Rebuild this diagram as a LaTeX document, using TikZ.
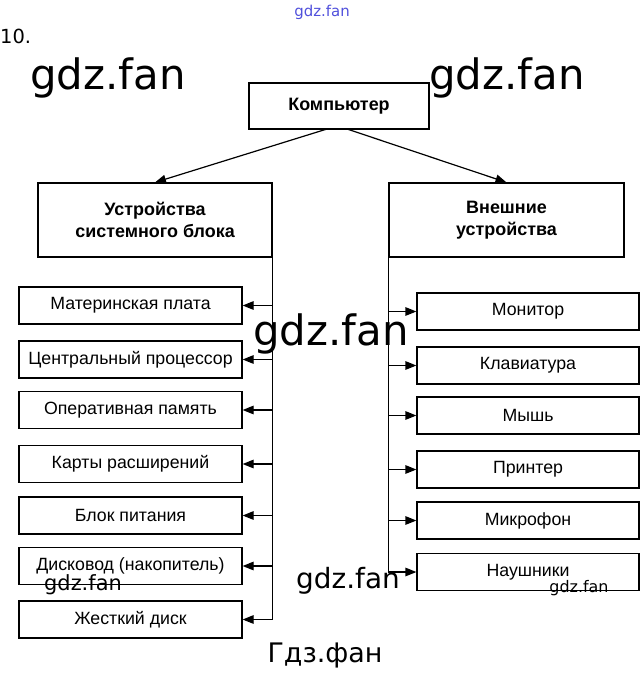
\documentclass[tikz,border=0pt]{standalone}
\usepackage{fontspec}
\setmainfont{Liberation Sans}
\newfontfamily\wmfont{DejaVu Sans}
\usetikzlibrary{arrows.meta}
\begin{document}
\begin{tikzpicture}[x=1bp,y=-1bp,
  box/.style={draw=black,line width=1.2bp,rectangle,inner sep=0pt,align=center},
  small/.style={box,minimum height=37bp,font=\fontsize{17.8}{20}\selectfont},
  big/.style={box,minimum width=234bp,minimum height=74bp,font=\bfseries\fontsize{18}{21.5}\selectfont},
  arr/.style={line width=1.2bp,-{Triangle[length=11bp,width=8.5bp]}},
  trunk/.style={line width=1.2bp},
  wm/.style={font=\wmfont,inner sep=0pt}]
\useasboundingbox (0,0) rectangle (643,673);
\fill[white] (0,0) rectangle (643,673);
% top
\node[box,minimum width=180bp,minimum height=46bp,font=\bfseries\fontsize{18}{21}\selectfont] (comp) at (339,106) {Компьютер};
\node[big] (lb) at (155,220) {Устройства\\системного блока};
\node[big,minimum width=235bp] (rb) at (506.5,220) {Внешние\\устройства};
\coordinate (c1) at (327,129);
\coordinate (c2) at (347,129);
\draw[arr] (c1) -- (lb.north);
\draw[arr] (c2) -- (rb.north);
% left items
\foreach \n/\y/\t in {l1/305.5/Материнская плата,l2/359.5/Центральный процессор,l3/410/Оперативная память,l4/464/Карты расширений,l5/515.5/Блок питания,l6/566/Дисковод (накопитель),l7/619.5/Жесткий диск}
  {\node[small,minimum width=223bp] (\n) at (130.5,\y) {\t};
   \draw[arr] (lb.south east |- \n.east) -- (\n.east);}
\draw[trunk] (lb.south east) -- (lb.south east |- l7.east);
% right items
\foreach \n/\y/\t in {r1/311.5/Монитор,r2/365.5/Клавиатура,r3/415.5/Мышь,r4/469.5/Принтер,r5/520.5/Микрофон,r6/572/Наушники}
  {\node[small,minimum width=222bp] (\n) at (528,\y) {\t};
   \draw[arr] (rb.south west |- \n.west) -- (\n.west);}
\draw[trunk] (rb.south west) -- (rb.south west |- r6.west);
% watermarks
\node[wm,anchor=west,font=\wmfont\fontsize{19.5}{22}\selectfont] (n10) at (0,36) {10.};
\node[wm,text={rgb,255:red,80;green,80;blue,220},font=\wmfont\fontsize{15}{18}\selectfont] (w0) at (322,12) {gdz.fan};
\node[wm,font=\wmfont\fontsize{42}{48}\selectfont] (w1) at (108,78) {gdz.fan};
\node[wm,font=\wmfont\fontsize{42}{48}\selectfont] (w2) at (507,78) {gdz.fan};
\node[wm,font=\wmfont\fontsize{42}{48}\selectfont] (w3) at (331,334) {gdz.fan};
\node[wm,font=\wmfont\fontsize{28}{32}\selectfont] (w4) at (348,581) {gdz.fan};
\node[wm,font=\wmfont\fontsize{21}{24}\selectfont] (w5) at (83,585) {gdz.fan};
\node[wm,font=\wmfont\fontsize{16}{19}\selectfont] (w6) at (579,588) {gdz.fan};
\node[wm,font=\wmfont\fontsize{27}{30}\selectfont] (w7) at (325,655) {Гдз.фан};
\end{tikzpicture}
\end{document}
